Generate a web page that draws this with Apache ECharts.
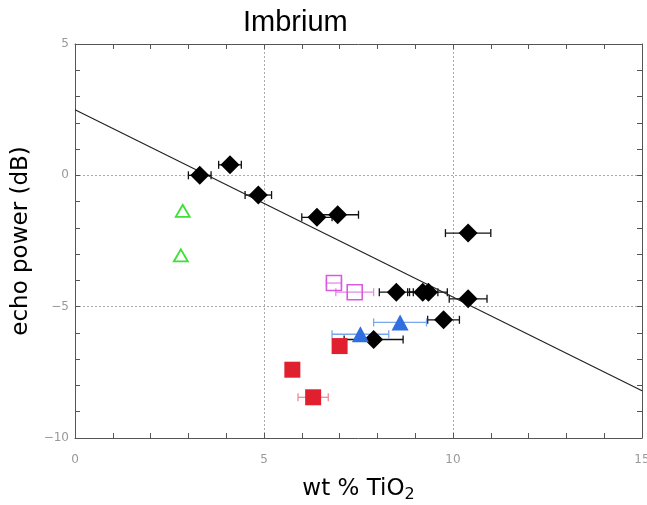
<!DOCTYPE html>
<html lang="en">
<head>
  <meta charset="UTF-8" />
  <title>Imbrium</title>
  <script src="https://cdn.jsdelivr.net/npm/echarts@6/dist/echarts.min.js"></script>
  <style>
    html, body { margin: 0; padding: 0; background: #fff; }
    #chart { width: 647px; height: 505px; }
  </style>
</head>
<body>
  <div id="chart"></div>
<script type="text/javascript">
  // data
  var blackX = [3.3, 4.1, 4.85, 6.4, 6.95, 10.4, 8.5, 9.2, 9.35, 10.4, 9.75, 7.9];
  var blackY = [0, 0.4, -0.75, -1.6, -1.5, -2.2, -4.45, -4.45, -4.45, -4.7, -5.5, -6.25];
  var blackErr = [0.3, 0.3, 0.35, 0.4, 0.55, 0.6, 0.45, 0.4, 0.5, 0.5, 0.42, 0.78];

  var blueX = [7.55, 8.6];
  var blueY = [-6.05, -5.6];
  var blueErr = [0.75, 0.7];

  var pinkX = [6.85, 7.4];
  var pinkY = [-4.1, -4.45];
  var pinkErr = [0.2, 0.5];

  var redX = [7.0, 5.75, 6.3];
  var redY = [-6.5, -7.4, -8.45];
  var redErr = [0.15, 0.1, 0.4];

  var greenX = [2.85, 2.8];
  var greenY = [-1.35, -3.05];

  var fitX = [0, 15];
  var fitY = [2.5, -8.2];

  function pts(xs, ys) {
    return xs.map(function (x, i) { return [x, ys[i]]; });
  }
  function errPts(xs, ys, es) {
    return xs.map(function (x, i) { return [x, ys[i], es[i]]; });
  }

  // horizontal error bars with caps
  function errSeries(data, color) {
    return {
      type: 'custom',
      xAxisIndex: 0, yAxisIndex: 0,
      silent: true,
      z: 1,
      data: data,
      renderItem: function (params, api) {
        var x = api.value(0), y = api.value(1), e = api.value(2);
        var a = api.coord([x - e, y]);
        var b = api.coord([x + e, y]);
        var cap = 4;
        var st = { stroke: color, lineWidth: 1.3 };
        return {
          type: 'group',
          children: [
            { type: 'line', shape: { x1: a[0], y1: a[1], x2: b[0], y2: b[1] }, style: st },
            { type: 'line', shape: { x1: a[0], y1: a[1] - cap, x2: a[0], y2: a[1] + cap }, style: st },
            { type: 'line', shape: { x1: b[0], y1: b[1] - cap, x2: b[0], y2: b[1] + cap }, style: st }
          ]
        };
      }
    };
  }

  var tickStyle = { color: '#555', width: 1 };

  function xAxisCfg(pos, show) {
    return {
      type: 'value', position: pos, min: 0, max: 15, interval: 5,
      axisLine: { show: true, onZero: false, lineStyle: { color: '#555', width: 1 } },
      axisTick: { show: true, inside: true, length: 5, lineStyle: tickStyle },
      minorTick: { show: true, splitNumber: 5, length: 5, lineStyle: tickStyle },
      axisLabel: { show: show, color: '#999', fontSize: 12, margin: 16, fontFamily: 'DejaVu Sans' },
      splitLine: { show: show, lineStyle: { color: '#aaa', type: [2, 2] } },
      name: show ? 'wt % TiO{sub|2}' : '',
      nameLocation: 'middle', nameGap: 37,
      nameTextStyle: {
        color: '#000', fontSize: 23, fontFamily: 'DejaVu Sans',
        rich: { sub: { fontSize: 16, verticalAlign: 'bottom', padding: [12, 0, 0, 0], fontFamily: 'DejaVu Sans' } }
      }
    };
  }
  function yAxisCfg(pos, show) {
    return {
      type: 'value', position: pos, min: -10, max: 5, interval: 5,
      axisLine: { show: true, onZero: false, lineStyle: { color: '#555', width: 1 } },
      axisTick: { show: true, inside: true, length: 5, lineStyle: tickStyle },
      minorTick: { show: true, splitNumber: 5, length: 5, lineStyle: tickStyle },
      axisLabel: { show: show, color: '#999', fontSize: 12, margin: 6, fontFamily: 'DejaVu Sans',
        formatter: function (v) { return v < 0 ? '\u2212' + Math.abs(v) : String(v); } },
      splitLine: { show: show, lineStyle: { color: '#aaa', type: [2, 2] } },
      name: show ? 'echo power (dB)' : '',
      nameLocation: 'middle', nameGap: 31,
      nameTextStyle: { color: '#000', fontSize: 23, fontFamily: 'DejaVu Sans' }
    };
  }

  var myChart = echarts.init(document.getElementById('chart'));

  myChart.setOption({
    animation: false,
    backgroundColor: '#fff',
    title: {
      text: 'Imbrium', left: 238, top: 3,
      textStyle: { color: '#000', fontSize: 29, fontWeight: 'normal', fontFamily: 'Liberation Sans' }
    },
    grid: { left: 75, right: 5, top: 44, bottom: 67, containLabel: false, outerBoundsMode: 'none' },
    xAxis: [xAxisCfg('bottom', true), xAxisCfg('top', false)],
    yAxis: [yAxisCfg('left', true), yAxisCfg('right', false)],
    series: [
      {
        type: 'line', data: pts(fitX, fitY), showSymbol: false, symbol: 'none',
        lineStyle: { color: '#222', width: 1.2 }, z: 1, silent: true
      },
      errSeries(errPts(blackX, blackY, blackErr), '#111'),
      errSeries(errPts(blueX, blueY, blueErr), '#7aa6ea'),
      errSeries(errPts(pinkX, pinkY, pinkErr), '#e58ae8'),
      errSeries(errPts(redX, redY, redErr), '#ef8a95'),
      {
        type: 'scatter', data: pts(blackX, blackY), symbol: 'diamond', symbolSize: [19, 19],
        itemStyle: { color: '#000', opacity: 1 }, z: 3
      },
      {
        type: 'scatter', data: pts(blueX, blueY), symbol: 'triangle', symbolSize: [17, 16],
        itemStyle: { color: '#2f6fe0', opacity: 1 }, z: 3
      },
      {
        type: 'scatter', data: pts(pinkX, pinkY), symbol: 'rect', symbolSize: [15, 15],
        itemStyle: { color: 'rgba(255,255,255,0)', borderColor: '#d95ae0', borderWidth: 1.6, opacity: 1 }, z: 3
      },
      {
        type: 'scatter', data: pts(redX, redY), symbol: 'rect', symbolSize: [16, 16],
        itemStyle: { color: '#e0202f', opacity: 1 }, z: 3
      },
      {
        type: 'scatter', data: pts(greenX, greenY), symbol: 'triangle', symbolSize: [14, 12],
        itemStyle: { color: 'rgba(255,255,255,0)', borderColor: '#3ee03a', borderWidth: 1.8, opacity: 1 }, z: 3
      }
    ]
  });
</script>
</body>
</html>
